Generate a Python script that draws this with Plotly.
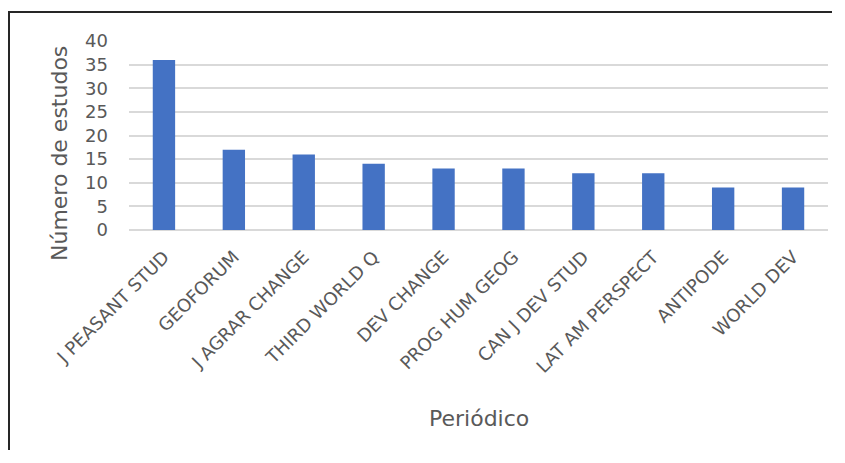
import plotly.graph_objects as go

categories = ["J PEASANT STUD", "GEOFORUM", "J AGRAR CHANGE", "THIRD WORLD Q", "DEV CHANGE",
              "PROG HUM GEOG", "CAN J DEV STUD", "LAT AM PERSPECT", "ANTIPODE", "WORLD DEV"]
values = [36, 17, 16, 14, 13, 13, 12, 12, 9, 9]
y_ticks = [0, 5, 10, 15, 20, 25, 30, 35, 40]

OFF = 8  # page body margin
W, H = 845 - 2 * OFF - 4, 463 - 2 * OFF - 4  # leave slack so the page never scrolls
L, R, T, B = 129 - OFF, OFF + W - 828, 41 - OFF, OFF + H - 230
pw, ph = W - L - R, H - T - B

def px(x):
    return (x - OFF - L) / pw

def py(y):
    return (H - B - (y - OFF)) / ph

FONT = "DejaVu Sans"
GREY = "#595959"
BORDER = dict(color="#262626", width=2)

fig = go.Figure(go.Bar(x=categories, y=values, marker=dict(color="#4472C4", line=dict(width=0))))

fig.update_layout(
    width=W, height=H,
    margin=dict(l=L, r=R, t=T, b=B),
    paper_bgcolor="white", plot_bgcolor="white",
    bargap=0.68,
    showlegend=False,
    font=dict(family=FONT, color=GREY),
    xaxis=dict(tickangle=-45, tickfont=dict(family=FONT, size=18, color=GREY), showgrid=False,
               showline=False, ticks="", ticklabelstandoff=12, automargin=False),
    yaxis=dict(range=[0, 40], tickvals=y_ticks, tickfont=dict(family=FONT, size=18, color=GREY),
               showgrid=True, gridcolor="#D9D9D9", gridwidth=2, zeroline=True,
               zerolinecolor="#D9D9D9", zerolinewidth=2, showline=False, ticks="",
               ticklabelstandoff=20, automargin=False),
    annotations=[
        dict(text="Número de estudos", x=px(59), y=py(154), xref="paper", yref="paper",
             showarrow=False, textangle=-90, font=dict(family=FONT, size=22, color=GREY),
             xanchor="center", yanchor="middle"),
        dict(text="Periódico", x=px(479), y=py(418), xref="paper", yref="paper",
             showarrow=False, font=dict(family=FONT, size=22, color=GREY),
             xanchor="center", yanchor="middle"),
    ],
    shapes=[
        dict(type="line", xref="paper", yref="paper", x0=px(9), x1=px(9),
             y0=py(OFF + H - 1), y1=py(11), line=BORDER, layer="above"),
        dict(type="line", xref="paper", yref="paper", x0=px(OFF + 1), x1=px(OFF + W - 1),
             y0=py(12), y1=py(12), line=BORDER, layer="above"),
    ],
)

fig.write_html("out.html")
